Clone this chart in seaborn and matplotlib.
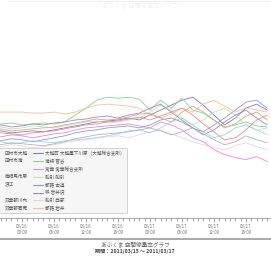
import numpy as np
import pandas as pd
import matplotlib
matplotlib.use("Agg")
import matplotlib.pyplot as plt
from matplotlib.lines import Line2D
from matplotlib.ticker import MultipleLocator, FixedLocator
import seaborn as sns

# ---- data -------------------------------------------------------------
hours = [-6, -4, -2, 0, 2, 4, 6, 8, 10, 12, 14, 16, 18, 20, 22, 24, 26,
         28, 30, 32, 34, 36, 38, 40, 42, 44, 46]
tick_hours = [0, 6, 12, 18, 24, 30, 36, 42]
tick_labels = ["03/16\n00:00", "03/16\n06:00", "03/16\n12:00", "03/16\n18:00",
               "03/17\n00:00", "03/17\n06:00", "03/17\n12:00", "03/17\n18:00"]

s_purple = [0.087,0.088,0.086,0.087,0.088,0.087,0.089,0.091,0.093,0.095,0.097,0.098,0.099,0.101,0.099,0.104,0.109,0.114,0.119,0.122,0.114,0.104,0.094,0.101,0.111,0.115,0.109]
s_green = [0.095,0.095,0.096,0.094,0.095,0.096,0.095,0.097,0.104,0.111,0.119,0.122,0.121,0.122,0.120,0.109,0.119,0.111,0.121,0.109,0.106,0.099,0.092,0.094,0.097,0.093,0.092]
s_pink = [0.083,0.082,0.084,0.083,0.081,0.083,0.085,0.086,0.089,0.091,0.092,0.093,0.094,0.095,0.093,0.091,0.097,0.094,0.089,0.081,0.077,0.069,0.064,0.061,0.059,0.062,0.057]
s_lgreen = [0.091,0.092,0.090,0.091,0.093,0.092,0.091,0.093,0.095,0.097,0.098,0.096,0.097,0.099,0.101,0.107,0.114,0.109,0.101,0.094,0.099,0.107,0.111,0.104,0.094,0.089,0.091]
s_bluegray = [0.079,0.078,0.080,0.079,0.077,0.079,0.081,0.083,0.086,0.088,0.089,0.091,0.092,0.093,0.091,0.094,0.099,0.101,0.097,0.091,0.087,0.094,0.101,0.109,0.117,0.119,0.111]
s_purple2 = [0.093,0.094,0.092,0.093,0.095,0.094,0.096,0.097,0.099,0.100,0.102,0.103,0.101,0.104,0.106,0.111,0.115,0.107,0.099,0.091,0.084,0.089,0.097,0.104,0.109,0.101,0.094]
s_lpink = [0.073,0.072,0.074,0.073,0.071,0.072,0.074,0.076,0.078,0.079,0.081,0.082,0.083,0.081,0.084,0.087,0.089,0.085,0.081,0.077,0.074,0.071,0.069,0.073,0.076,0.072,0.069]
s_orange = [0.107,0.107,0.107,0.107,0.106,0.106,0.107,0.105,0.107,0.111,0.114,0.115,0.114,0.113,0.111,0.104,0.101,0.105,0.111,0.107,0.115,0.119,0.113,0.107,0.111,0.109,0.107]
s_lblue = [0.076,0.077,0.075,0.076,0.078,0.077,0.076,0.078,0.079,0.080,0.081,0.083,0.085,0.088,0.089,0.086,0.091,0.097,0.101,0.094,0.087,0.081,0.084,0.091,0.094,0.089,0.084]
s_red = [0.085,0.086,0.085,0.084,0.086,0.087,0.088,0.090,0.092,0.094,0.095,0.097,0.098,0.100,0.102,0.099,0.103,0.107,0.111,0.104,0.095,0.087,0.079,0.081,0.089,0.099,0.104]
s_brown = [0.089,0.090,0.088,0.089,0.090,0.091,0.092,0.094,0.096,0.098,0.100,0.099,0.100,0.102,0.105,0.106,0.101,0.097,0.107,0.113,0.107,0.099,0.091,0.095,0.103,0.107,0.099]
s_gray = [0.075,0.074,0.076,0.075,0.074,0.073,0.075,0.077,0.080,0.082,0.084,0.085,0.086,0.087,0.089,0.091,0.088,0.084,0.087,0.091,0.085,0.079,0.074,0.077,0.083,0.079,0.076]

series_names = ["大越町 大越屋下川原（大越総合支所）", "滝根 菅谷", "常葉 常葉総合支所",
                "船引 船引", "都路 古道", "移 岩井沢", "船引 西部", "都路 岩井",
                "s9", "s10", "s11", "s12"]
group_names = ["田村市大越", "田村市滝", "", "南相馬市原", "浪江", "", "双葉郡川内", "双葉郡葛尾"]
series_values = [s_purple, s_green, s_pink, s_lgreen, s_bluegray, s_purple2,
                 s_lpink, s_orange, s_lblue, s_red, s_brown, s_gray]
series_colors = ["#7a7ad0", "#8ad08a", "#e68ad8", "#c4e2ae", "#8a9cc8", "#a684c8",
                 "#ecd0e6", "#f2c290", "#9ad6ec", "#e69090", "#d0ac80", "#b4b4b4"]

title = "あぶくま 空間線量率グラフ"
subtitle = "期間：2011/03/15 〜 2011/03/17"

# ---- build table ------------------------------------------------------
rows = []
for name, vals in zip(series_names, series_values):
    for h, v in zip(hours, vals):
        rows.append({"hour": h, "value": v, "station": name})
df = pd.DataFrame(rows)
palette = dict(zip(series_names, series_colors))

# ---- figure -----------------------------------------------------------
sns.set_theme(style="white")
plt.rcParams["font.family"] = ["Noto Sans CJK JP", "DejaVu Sans"]

W, H = 271, 256
fig = plt.figure(figsize=(W / 100, H / 100), dpi=100)
ax = fig.add_axes([-10 / W, (H - 218) / H, 281 / W, 198 / H])

sns.lineplot(data=df, x="hour", y="value", hue="station", palette=palette,
             hue_order=series_names, linewidth=0.6, legend=False, ax=ax)

ax.set_xlim(-6, 46.7)
ax.set_ylim(0, 0.2)
ax.set_xlabel("")
ax.set_ylabel("")
ax.set_yticks([])
ax.xaxis.set_major_locator(FixedLocator(tick_hours))
ax.set_xticklabels(tick_labels)
ax.xaxis.set_minor_locator(MultipleLocator(1))
ax.tick_params(axis="x", which="major", length=3, width=0.6, color="#999999",
               labelsize=3.2, labelcolor="#777777", pad=1.5, bottom=True)
ax.tick_params(axis="x", which="minor", length=2, width=0.6, color="#999999",
               bottom=True)
for sp in ["left", "right", "top"]:
    ax.spines[sp].set_visible(False)
ax.spines["bottom"].set_color("#999999")
ax.spines["bottom"].set_linewidth(0.6)

# legend: group names column + line/station column
blank = [Line2D([], [], color="none") for _ in group_names]
lines = [Line2D([], [], color=c, lw=0.8) for c in series_colors[:8]]
leg = ax.legend(blank + lines, group_names + series_names[:8], ncol=2,
                loc="lower left", bbox_to_anchor=(-0.006, 0.014),
                fontsize=3.3, handlelength=2.1, handletextpad=0.4,
                columnspacing=1.3, labelspacing=0.6, borderpad=0.5,
                frameon=True, fancybox=False, framealpha=1)
leg.get_frame().set_facecolor("#f6f6f6")
leg.get_frame().set_edgecolor("#cccccc")
leg.get_frame().set_linewidth(0.6)
for t in leg.get_texts():
    t.set_color("#555555")

# decorations
fig.add_artist(Line2D([0, 1], [(H - 239) / H, (H - 239) / H], color="#aaaaaa",
                      lw=1.4, transform=fig.transFigure))
fig.add_artist(Line2D([8 / W, 270 / W], [(H - 0.5) / H, (H - 0.5) / H],
                      color="#eeeeee", lw=0.8, transform=fig.transFigure))
fig.text(140 / W, (H - 6) / H, title, ha="center", va="center",
         fontsize=4.5, color="#f2f2f2")
fig.text(135 / W, (H - 244) / H, title, ha="center", va="center",
         fontsize=4.1, color="#666666")
fig.text(135 / W, (H - 251.5) / H, subtitle, ha="center", va="center",
         fontsize=3.7, color="#444444", fontweight="bold")

fig.savefig("out.png", dpi=100, facecolor="white")
